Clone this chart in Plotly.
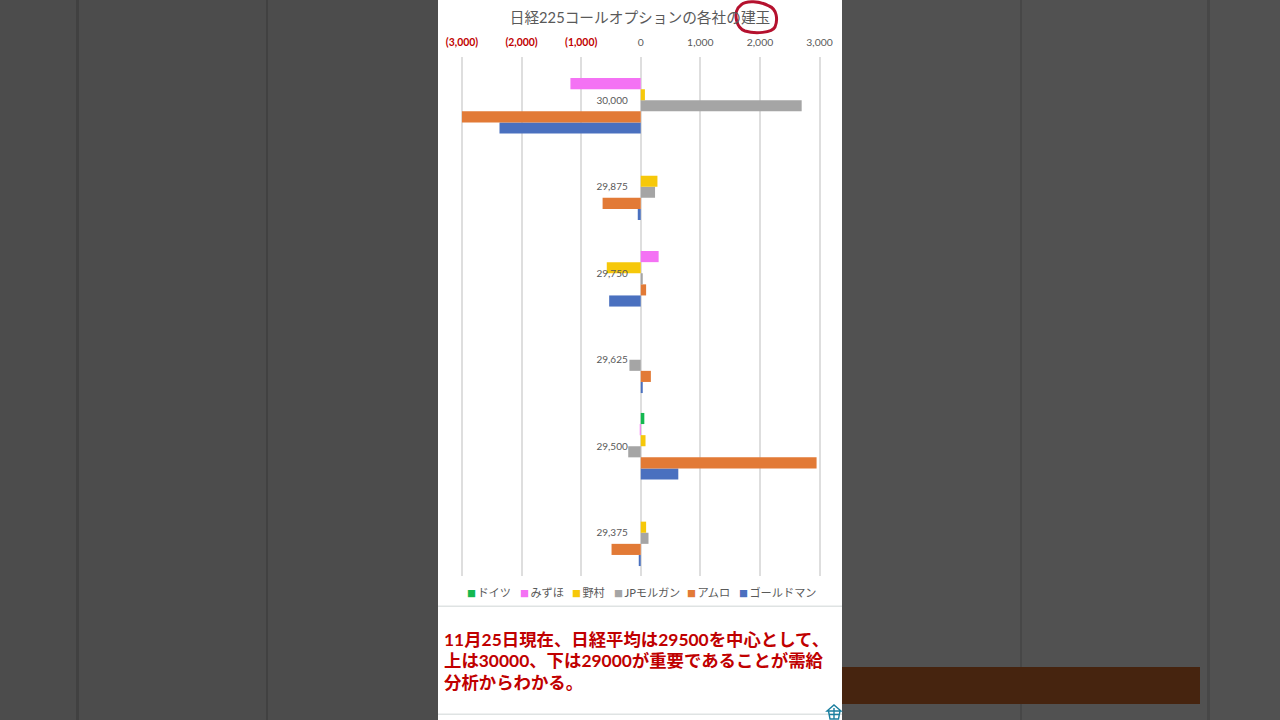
import plotly.graph_objects as go

strikes = ["29,375", "29,500", "29,625", "29,750", "29,875", "30,000"]
goldman = [-20, 630, 20, -530, -50, -2370]
amro = [-490, 2950, 170, 90, -640, -3000]
jpmorgan = [130, -210, -190, 30, 240, 2700]
nomura = [90, 80, 0, -570, 280, 70]
mizuho = [0, -15, 0, 300, 0, -1180]
deutsche = [0, 60, 0, 0, 0, 0]

series_names = ["ゴールドマン", "アムロ", "JPモルガン", "野村", "みずほ", "ドイツ"]
series_values = [goldman, amro, jpmorgan, nomura, mizuho, deutsche]
series_colors = ["#4a70bf", "#e27a36", "#a5a5a5", "#f6c80a", "#f472f4", "#14b850"]

x_ticks = [-3000, -2000, -1000, 0, 1000, 2000, 3000]
x_labels = ["(3,000)", "(2,000)", "(1,000)", "0", "1,000", "2,000", "3,000"]

title_text = "日経225コールオプションの各社の建玉"
note_lines = ["11月25日現在、日経平均は29500を中心として、",
              "上は30000、下は29000が重要であることが需給",
              "分析からわかる。"]

W, H = 1280, 720
FONT = "Lato, 'Noto Sans CJK JP', sans-serif"
RED = "#c00000"
GREY = "#595959"


def px(x):
    return x / W


def py(y):
    return 1 - y / H


def rect(x0, y0, x1, y1, color, layer="below"):
    return dict(type="rect", xref="paper", yref="paper", x0=px(x0), x1=px(x1),
                y0=py(y1), y1=py(y0), fillcolor=color, line=dict(width=0), layer=layer)


def path(cmds, **kw):
    out = []
    for c in cmds:
        if isinstance(c, str):
            out.append(c)
        else:
            out.append(f"{px(c[0]):.5f},{py(c[1]):.5f}")
    return dict(type="path", xref="paper", yref="paper", path=" ".join(out), **kw)


fig = go.Figure()
for name, vals, color in zip(series_names, series_values, series_colors):
    fig.add_trace(go.Bar(y=strikes, x=vals, name=name, orientation="h",
                         marker=dict(color=color, line=dict(width=0)), showlegend=False))

shapes = [
    rect(842, 0, 1280, 720, "#515151"),
    rect(76, 0, 79, 720, "#414141"), rect(266, 0, 268, 720, "#414141"),
    rect(1020, 0, 1022, 720, "#474747"), rect(1207, 0, 1210, 720, "#474747"),
    rect(842, 667, 1200, 704, "#46240f"),
    rect(438, 0, 842, 720, "#ffffff"),
    rect(438, 605.5, 842, 607, "#dfe3e3"),
    rect(438, 713.5, 842, 715, "#dfe3e3"),
    path(["M", (741, 5), "C", (746, 0), (760, 1), (769, 6), "C", (777, 9), (778, 20), (775, 27),
          "C", (772, 33), (755, 34), (745, 31), "C", (736, 28), (734, 14), (738, 8), "L", (742, 4)],
         line=dict(color="#b5112e", width=3)),
    path(["M", (827, 711), "L", (834, 705), "L", (841, 711), "Z"],
         line=dict(color="#1b7f9f", width=1.4), fillcolor="#ffffff"),
    path(["M", (828.5, 711), "L", (830, 719), "L", (838.5, 719), "L", (840, 711),
          "M", (829, 714.5), "L", (839.5, 714.5), "M", (834, 708), "L", (834, 719)],
         line=dict(color="#1b7f9f", width=1.4)),
]

legend_marker_x = [739, 687, 614, 572, 520, 467]
annotations = []
for name, color, lx in zip(series_names, series_colors, legend_marker_x):
    annotations.append(dict(xref="paper", yref="paper", x=px(lx), y=py(592.5), xanchor="left",
                            yanchor="middle", showarrow=False, xshift=-2,
                            text=f'<span style="color:{color};font-size:9px">■</span>\u2009{name}',
                            font=dict(family=FONT, size=11.2, color=GREY)))
for line, ly in zip(note_lines, [639.5, 660.5, 682]):
    annotations.append(dict(xref="paper", yref="paper", x=px(442), y=py(ly), xanchor="left",
                            yanchor="middle", align="left", showarrow=False, text=f"<b>{line}</b>",
                            font=dict(family=FONT, size=17.4, color=RED)))

fig.update_layout(
    width=W, height=H, margin=dict(l=0, r=0, t=0, b=0, autoexpand=False), autosize=False,
    paper_bgcolor="#4c4c4c", plot_bgcolor="rgba(0,0,0,0)",
    barmode="group", bargap=0.23, bargroupgap=0,
    font=dict(family=FONT, color=GREY, size=10),
    title=dict(text=title_text, x=0.5, xanchor="center", xref="paper", y=py(18), yanchor="middle",
               yref="paper", font=dict(family=FONT, size=14.7, color=GREY)),
    xaxis=dict(domain=[px(460.75), px(820.75)], range=[-3020, 3020], side="top", automargin=False,
               tickvals=x_ticks,
               ticktext=[f'<span style="color:{RED}"><b>{t}</b></span>' if v < 0 else t
                         for v, t in zip(x_ticks, x_labels)],
               showgrid=True, gridcolor="#dedede", gridwidth=1.6,
               zeroline=True, zerolinecolor="#dedede", zerolinewidth=1.6,
               showline=False, ticks="outside", ticklen=6, tickcolor="rgba(0,0,0,0)",
               tickfont=dict(family=FONT, size=10.4, color=GREY)),
    yaxis=dict(domain=[py(576), py(57)], type="category", categoryorder="array", categoryarray=strikes,
               anchor="free", position=px(640.75), automargin=False,
               showgrid=False, zeroline=False, showline=False,
               ticks="outside", ticklen=11, tickcolor="rgba(0,0,0,0)",
               tickfont=dict(family=FONT, size=10, color=GREY)),
    shapes=shapes, annotations=annotations,
)

fig.write_html("out.html", config=dict(displayModeBar=False),
               post_script="document.body.style.margin='0';")
